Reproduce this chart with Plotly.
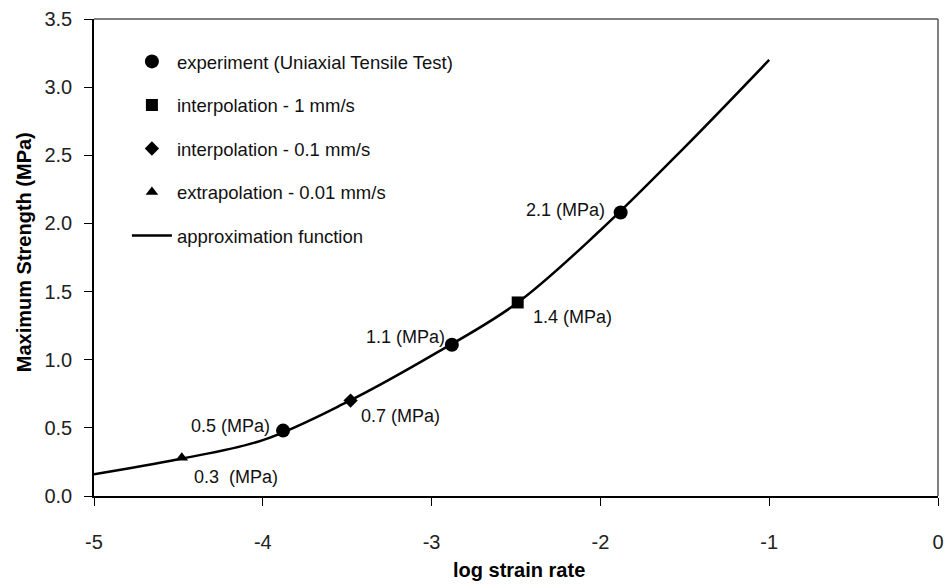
import plotly.graph_objects as go

# data
curve_x = [-5.0, -4.5, -4.0, -3.5, -3.0, -2.5, -2.0, -1.5, -1.0]
curve_y = [0.16, 0.27, 0.41, 0.69, 1.03, 1.41, 1.95, 2.56, 3.20]
exp_x = [-3.88, -2.88, -1.88]
exp_y = [0.48, 1.11, 2.08]
int1_x = [-2.49]
int1_y = [1.42]
int01_x = [-3.48]
int01_y = [0.70]
ext_x = [-4.48]
ext_y = [0.28]
label_x = [-4.42, -4.44, -3.43, -3.40, -2.41, -2.45]
label_y = [0.14, 0.51, 0.59, 1.17, 1.31, 2.10]
label_text = ["0.3  (MPa)", "0.5 (MPa)", "0.7 (MPa)", "1.1 (MPa)", "1.4 (MPa)", "2.1 (MPa)"]
x_ticks = [-5, -4, -3, -2, -1, 0]
x_tick_text = ["-5", "-4", "-3", "-2", "-1", "0"]
y_ticks = [0.0, 0.5, 1.0, 1.5, 2.0, 2.5, 3.0, 3.5]

FONT = "Liberation Sans, Arial, sans-serif"

fig = go.Figure()
fig.add_trace(go.Scatter(x=curve_x, y=curve_y, mode="lines", name="approximation function",
                         line=dict(color="black", width=2.5, shape="spline"), legendgroup="e",
                         legendrank=1005))
fig.add_trace(go.Scatter(x=exp_x, y=exp_y, mode="markers", name="experiment (Uniaxial Tensile Test)",
                         marker=dict(symbol="circle", size=14, color="black"), legendgroup="a",
                         legendrank=1000))
fig.add_trace(go.Scatter(x=int1_x, y=int1_y, mode="markers", name="interpolation - 1 mm/s",
                         marker=dict(symbol="square", size=12, color="black"), legendgroup="b",
                         legendrank=1001))
fig.add_trace(go.Scatter(x=int01_x, y=int01_y, mode="markers", name="interpolation - 0.1 mm/s",
                         marker=dict(symbol="diamond", size=11, color="black"), legendgroup="c",
                         legendrank=1002))
fig.add_trace(go.Scatter(x=ext_x, y=ext_y, mode="markers", name="extrapolation - 0.01 mm/s",
                         marker=dict(symbol="triangle-up", size=11, color="black"), legendgroup="d",
                         legendrank=1003))

for x, y, t in zip(label_x, label_y, label_text):
    fig.add_annotation(x=x, y=y, text=t, showarrow=False, xanchor="left", yanchor="middle",
                       font=dict(family=FONT, size=18, color="#111111"))

# axis titles
fig.add_annotation(xref="paper", yref="paper", x=-0.0835, y=0.51, text="<b>Maximum Strength (MPa)</b>",
                   textangle=-90, showarrow=False, xanchor="center", yanchor="middle",
                   font=dict(family=FONT, size=20, color="black"))
fig.add_annotation(xref="paper", yref="paper", x=0.5035, y=-0.155, text="<b>log strain rate</b>",
                   showarrow=False, xanchor="center", yanchor="middle",
                   font=dict(family=FONT, size=20, color="black"))

# top and right frame in gray
fig.add_shape(type="line", xref="paper", yref="paper", x0=0, x1=1, y0=1, y1=1,
              line=dict(color="#555555", width=1.5))
fig.add_shape(type="line", xref="paper", yref="paper", x0=1, x1=1, y0=0, y1=1,
              line=dict(color="#555555", width=1.5))

fig.update_layout(
    width=950, height=588,
    margin=dict(l=94, r=6, t=19, b=92),
    paper_bgcolor="white", plot_bgcolor="white",
    font=dict(family=FONT, size=16, color="black"),
    showlegend=True,
    legend=dict(x=0.039, y=0.950, xanchor="left", yanchor="top", bgcolor="rgba(0,0,0,0)",
                font=dict(family=FONT, size=18.5, color="#111111"), tracegroupgap=16.5,
                itemwidth=40),
)
fig.update_xaxes(range=[-5, 0], tickvals=x_ticks, ticktext=x_tick_text, ticks="outside", ticklen=8,
                 tickcolor="black", tickfont=dict(family=FONT, size=20, color="#222222"),
                 showline=True, linecolor="black", linewidth=1.5, mirror=False, showgrid=False,
                 zeroline=False, ticklabelstandoff=19)
fig.update_yaxes(range=[0, 3.5], tickvals=y_ticks, tickformat=".1f", ticks="outside", ticklen=8,
                 tickcolor="black", tickfont=dict(family=FONT, size=20, color="#222222"),
                 showline=True, linecolor="black", linewidth=1.5, mirror=False, showgrid=False,
                 zeroline=False, ticklabelstandoff=8)

fig.write_html("out.html")
